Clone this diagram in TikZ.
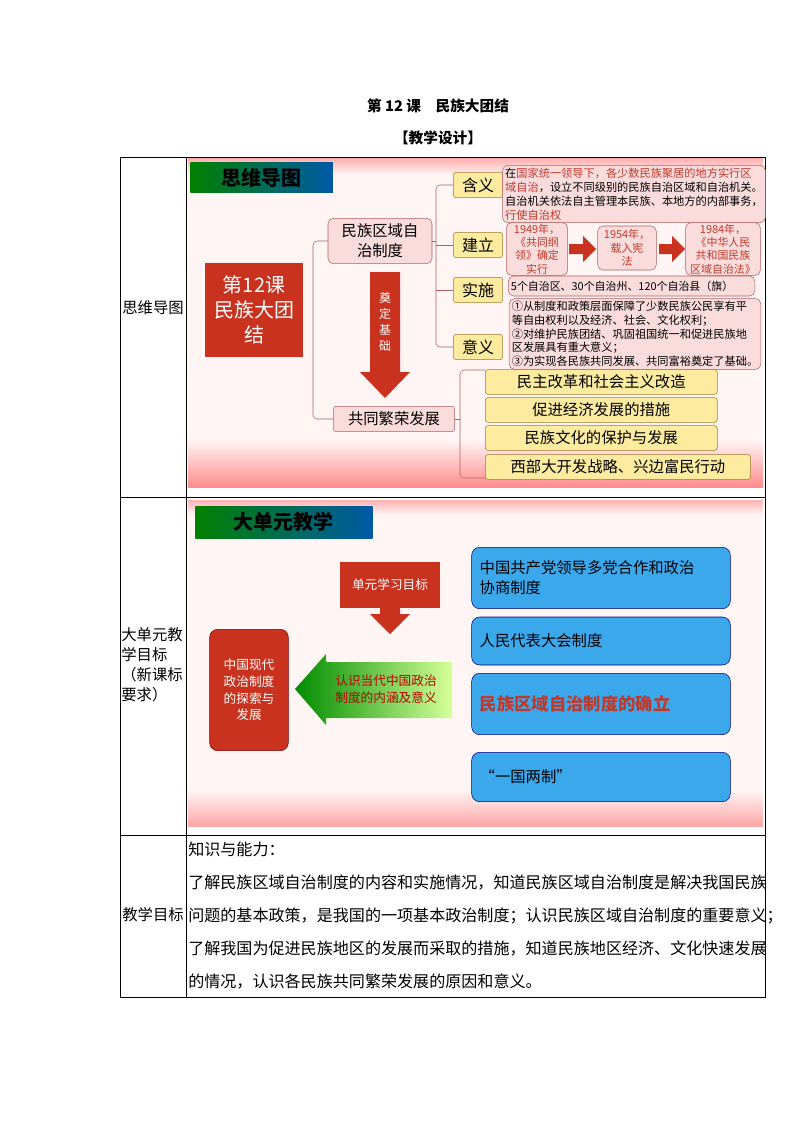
\documentclass[tikz,border=0pt]{standalone}
\usepackage{fontspec}
\setmainfont{Noto Sans CJK SC}
\XeTeXlinebreaklocale "zh"
\XeTeXlinebreakskip=0pt plus 1pt
\usetikzlibrary{positioning}
\definecolor{boxred}{HTML}{C8321E}
\definecolor{pinkfill}{HTML}{FADCDC}
\definecolor{pinkline}{HTML}{B06060}
\definecolor{yelfill}{HTML}{FDEBA0}
\definecolor{yelline}{HTML}{A07830}
\definecolor{blubox}{HTML}{3CA8EC}
\definecolor{txtred}{HTML}{C0392B}
\tikzset{
  pinkbox/.style={draw=pinkline,fill=pinkfill,rounded corners=4pt,align=center,inner sep=1pt},
  yelbox/.style={draw=yelline,fill=yelfill,rounded corners=2pt,align=center,inner sep=1pt},
  bluebox/.style={draw=blue!50!black,fill=blubox,rounded corners=6pt,align=left,inner sep=6pt},
  branch/.style={draw=pinkline,rounded corners=3pt},
  header/.style={left color=green!50!black,right color=teal!70!blue,font=\bfseries\fontsize{15}{15}\selectfont,text=black,anchor=north west},
  cell/.style={font=\fontsize{11.5}{15}\selectfont}
}
\begin{document}
\begin{tikzpicture}[x=0.75pt,y=-0.75pt]
\useasboundingbox (0,0) rectangle (794,1123);
% titles
\node[font=\bfseries\fontsize{11}{13}\selectfont] (title) at (438,106) {第 12 课\quad 民族大团结};
\node[font=\bfseries\fontsize{11}{13}\selectfont] (sub) at (438,138) {【教学设计】};
% table
\draw[line width=0.6pt] (120,157) rectangle (765,997);
\draw[line width=0.6pt] (186,157) -- (186,997);
\draw[line width=0.6pt] (120,497) -- (765,497);
\draw[line width=0.6pt] (120,835) -- (765,835);
\node[cell] (lab1) at (153,308) {思维导图};
\node[cell,align=left,text width=52pt] (lab2) at (156,665) {大单元教\\学目标\\（新课标\\要求）};
\node[cell] (lab3) at (153,915) {教学目标};
\node[cell,anchor=north west,align=left,inner sep=0pt,font=\fontsize{12.05}{24.6}\selectfont] (goal) at (188,842)
 {知识与能力：\\
  了解民族区域自治制度的内容和实施情况，知道民族区域自治制度是解决我国民族\\
  问题的基本政策，是我国的一项基本政治制度；认识民族区域自治制度的重要意义；\\
  了解我国为促进民族地区的发展而采取的措施，知道民族地区经济、文化快速发展\\
  的情况，认识各民族共同繁荣发展的原因和意义。};

% ===== picture 1
\fill[red!4] (188,159) rectangle (763,487);
\shade[top color=red!4,bottom color=red!45] (188,440) rectangle (763,487);
\shade[top color=red!30,bottom color=red!4] (188,159) rectangle (763,175);
\node[header,minimum width=107pt,minimum height=23pt] (hd1) at (190,162) {思维导图};
\node[fill=boxred,text=white,font=\fontsize{15}{19}\selectfont,align=center,minimum width=73pt,minimum height=71pt] (lesson) at (254,310) {第12课\\民族大团\\结};
\node[pinkbox,font=\fontsize{11.5}{15}\selectfont,minimum width=78pt,minimum height=34pt] (sys) at (380,241) {民族区域自\\治制度};
\node[pinkbox,rounded corners=2pt,font=\fontsize{11.5}{14}\selectfont,minimum width=91pt,minimum height=19pt] (prosp) at (394,419) {共同繁荣发展};
\fill[boxred] (370,272) -- (400,272) -- (400,372) -- (410,372) -- (385,398) -- (360,372) -- (370,372) -- cycle;
\foreach \c [count=\i] in {奠,定,基,础}
  \node[text=white,font=\fontsize{9}{10}\selectfont,inner sep=0pt] (base\i) at (385,282+\i*16) {\c};
\draw[branch] (sys.west) -| (313,330) |- (prosp.west);
% meanings
\foreach \n/\t/\y in {m1/含义/185,m2/建立/245,m3/实施/290,m4/意义/347}
  \node[yelbox,font=\fontsize{12}{14}\selectfont,minimum width=37pt,minimum height=19pt] (\n) at (478,\y) {\t};
\draw[branch] (sys.east) -- (436,241);
\draw[branch] (m1.west) -| (436,347) -- (m4.west);
\draw[branch] (436,245) -- (m2.west);
\draw[branch] (436,290) -- (m3.west);
\node[pinkbox,align=left,font=\fontsize{8.4}{10.4}\selectfont,inner sep=2pt] (t1) at (634,194)
 {在\textcolor{txtred}{国家统一领导下，各少数民族聚居的地方实行区}\\\textcolor{txtred}{域自治}，设立不同级别的民族自治区域和自治机关。\\自治机关依法自主管理本民族、本地方的内部事务，\\\textcolor{txtred}{行使自治权}};
\node[pinkbox,text=txtred,font=\fontsize{8.2}{10}\selectfont,minimum width=46pt,minimum height=35pt] (y1) at (537,249) {1949年，\\《共同纲\\领》确定\\实行};
\node[pinkbox,text=txtred,font=\fontsize{8.2}{10}\selectfont,minimum width=44pt,minimum height=33pt] (y2) at (627,248) {1954年，\\载入宪\\法};
\node[pinkbox,text=txtred,font=\fontsize{8.2}{10}\selectfont,minimum width=56pt,minimum height=35pt] (y3) at (723,249) {1984年，\\《中华人民\\共和国民族\\区域自治法》};
\fill[boxred] (569,244) -- (583,244) -- (583,236) -- (596,249) -- (583,262) -- (583,254) -- (569,254) -- cycle;
\fill[boxred] (659,244) -- (672,244) -- (672,236) -- (685,249) -- (672,262) -- (672,254) -- (659,254) -- cycle;
\node[pinkbox,anchor=west,text width=181pt,align=left,font=\fontsize{8.2}{10}\selectfont,inner sep=2pt,minimum height=15pt] (t3) at (508,286) {5个自治区、30个自治州、120个自治县（旗）};
\node[pinkbox,align=left,font=\fontsize{8.4}{10.3}\selectfont,inner sep=2pt] (t4) at (635,334)
 {①从制度和政策层面保障了少数民族公民享有平\\等自由权利以及经济、社会、文化权利；\\②对维护民族团结、巩固祖国统一和促进民族地\\区发展具有重大意义；\\③为实现各民族共同发展、共同富裕奠定了基础。};
% development
\foreach \n/\t/\y/\w in {d1/民主改革和社会主义改造/382/174,d2/促进经济发展的措施/410/174,d3/民族文化的保护与发展/438/174,d4/西部大开发战略、兴边富民行动/467/199}
  \node[yelbox,anchor=west,font=\fontsize{11.5}{14}\selectfont,minimum width=\w pt,minimum height=18.5pt] (\n) at (485,\y) {\t};
\draw[branch] (prosp.east) -- (460,419);
\draw[branch] (485,370) -| (460,478) -- (485,478);

% ===== picture 2
\fill[red!4] (188,500) rectangle (763,826);
\shade[top color=red!4,bottom color=red!35] (188,790) rectangle (763,826);
\shade[top color=red!30,bottom color=red!4] (188,500) rectangle (763,515);
\node[header,minimum width=133pt,minimum height=24pt] (hd2) at (195,506) {大单元教学};
\node[fill=boxred,text=white,font=\fontsize{9.5}{12}\selectfont,minimum width=75pt,minimum height=34pt] (unit) at (390,585) {单元学习目标};
\fill[boxred] (380,608) -- (400,608) -- (400,614) -- (410,614) -- (390,634) -- (370,614) -- (380,614) -- cycle;
\node[fill=boxred,draw=red!50!black,rounded corners=6pt,text=white,align=center,font=\fontsize{9.5}{12.5}\selectfont,minimum width=59pt,minimum height=91pt] (hist) at (249,690) {中国现代\\政治制度\\的探索与\\发展};
\shade[left color=green!55!black,right color=yellow!60!green!40] (295,689) -- (326,654) -- (326,662) -- (452,662) -- (452,718) -- (326,718) -- (326,725) -- cycle;
\node[text=red!75!black,align=center,font=\fontsize{9.5}{12.5}\selectfont] (gatxt) at (386,689) {认识当代中国政治\\制度的内涵及意义};
\foreach \n/\t/\y/\h in {b1/{中国共产党领导多党合作和政治\\协商制度}/578/46,b2/人民代表大会制度/641/36,b4/“一国两制”/777/37}
  \node[bluebox,font=\fontsize{11.5}{15}\selectfont,text width=182pt,minimum height=\h pt] (\n) at (601,\y) {\t};
\node[bluebox,font=\bfseries\fontsize{13}{15}\selectfont,text=txtred,text width=182pt,minimum height=46pt] (b3) at (601,704) {民族区域自治制度的确立};
\end{tikzpicture}
\end{document}
